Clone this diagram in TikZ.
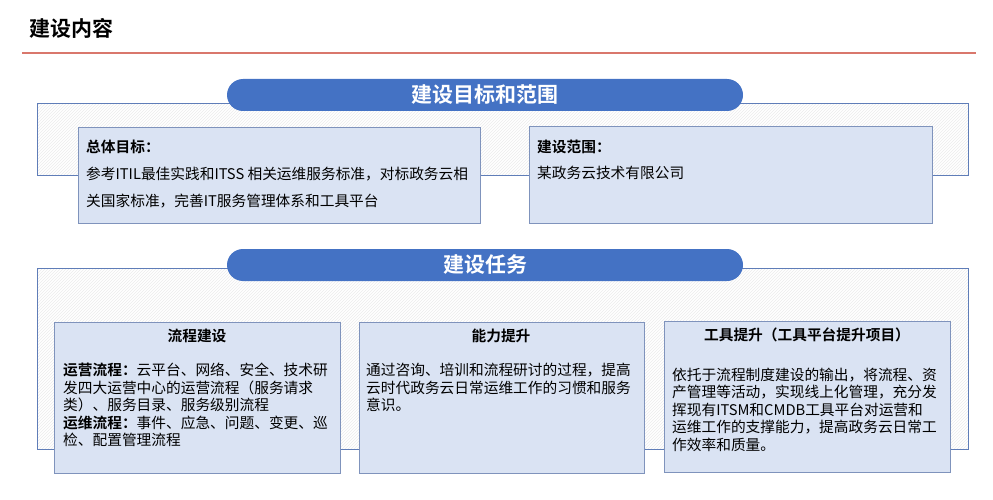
\documentclass[tikz,border=0pt]{standalone}
\usepackage{fontspec}
\setmainfont{Noto Sans CJK SC}[BoldFont={Noto Sans CJK SC Bold}]
\usetikzlibrary{positioning,patterns}
\definecolor{pillblue}{HTML}{4472C4}
\definecolor{boxfill}{HTML}{DAE3F3}
\definecolor{boxline}{HTML}{7F93BC}
\definecolor{frameline}{HTML}{5F7DB8}
\definecolor{redline}{HTML}{D9776C}

\begin{document}
\begin{tikzpicture}[x=1pt,y=1pt,yscale=-1,
  frame/.style={draw=frameline,line width=1pt,pattern=north east lines,pattern color=black!8,inner sep=0pt},
  pill/.style={fill=pillblue,rounded corners=16pt,inner sep=0pt,minimum width=516,minimum height=32,text=white,font=\fontsize{21}{24}\selectfont\bfseries},
  infobox/.style={fill=boxfill,draw=boxline,line width=0.9pt,inner sep=0pt,anchor=north west},
  bodytext/.style={inner sep=0pt,font=\fontsize{14.7}{17.5}\selectfont,align=left},
  headtext/.style={inner sep=0pt,font=\fontsize{14.7}{17.5}\selectfont\bfseries}]
\useasboundingbox (0,0) rectangle (993,500);

%heading
\node[inner sep=0pt,anchor=west,font=\fontsize{21}{24}\selectfont\bfseries] (title) at (29,28) {建设内容};
\coordinate (ruleL) at (22,53);
\coordinate (ruleR) at (976,53);
\draw[redline,line width=1.2pt] (ruleL) -- (ruleR);

%goals and scope
\node[frame,anchor=north west,minimum width=931,minimum height=72] (goalframe) at (37,103) {};
\node[pill] (goalpill) at (485,95) {建设目标和范围};
\node[infobox,minimum width=402,minimum height=96] (goalbox) at (78,127) {};
\node[infobox,minimum width=403,minimum height=97] (scopebox) at (529,126) {};
\node[headtext,anchor=west] (goalhead) at (86,147) {总体目标：};
\node[bodytext,anchor=west] (goalline1) at (86,174) {参考ITIL最佳实践和ITSS 相关运维服务标准，对标政务云相};
\node[bodytext,anchor=west] (goalline2) at (86,201) {关国家标准，完善IT服务管理体系和工具平台};
\node[headtext,anchor=west] (scopehead) at (537,147) {建设范围：};
\node[bodytext,anchor=west] (scopeline) at (537,173) {某政务云技术有限公司};

%tasks
\node[frame,anchor=north west,minimum width=931,minimum height=181] (taskframe) at (37,268) {};
\node[pill] (taskpill) at (485,265) {建设任务};
\node[infobox,minimum width=286,minimum height=151] (procbox) at (54,322) {};
\node[infobox,minimum width=285,minimum height=151] (capbox) at (359,322) {};
\node[infobox,minimum width=286,minimum height=151] (toolbox) at (664,321) {};

\node[headtext] (prochead) at (197,336) {流程建设};
\node[headtext] (caphead) at (501,336) {能力提升};
\node[headtext] (toolhead) at (807,335) {工具提升（工具平台提升项目）};

\node[bodytext,anchor=north west] (proctext) at (63,363) {\textbf{运营流程：}云平台、网络、安全、技术研\\发四大运营中心的运营流程（服务请求\\类）、服务目录、服务级别流程\\\textbf{运维流程：}事件、应急、问题、变更、巡\\检、配置管理流程};
\node[bodytext,anchor=north west] (captext) at (366,363) {通过咨询、培训和流程研讨的过程，提高\\云时代政务云日常运维工作的习惯和服务\\意识。};
\node[bodytext,anchor=north west] (tooltext) at (672,367.5) {依托于流程制度建设的输出，将流程、资\\产管理等活动，实现线上化管理，充分发\\挥现有ITSM和CMDB工具平台对运营和\\运维工作的支撑能力，提高政务云日常工\\作效率和质量。};

\end{tikzpicture}
\end{document}
